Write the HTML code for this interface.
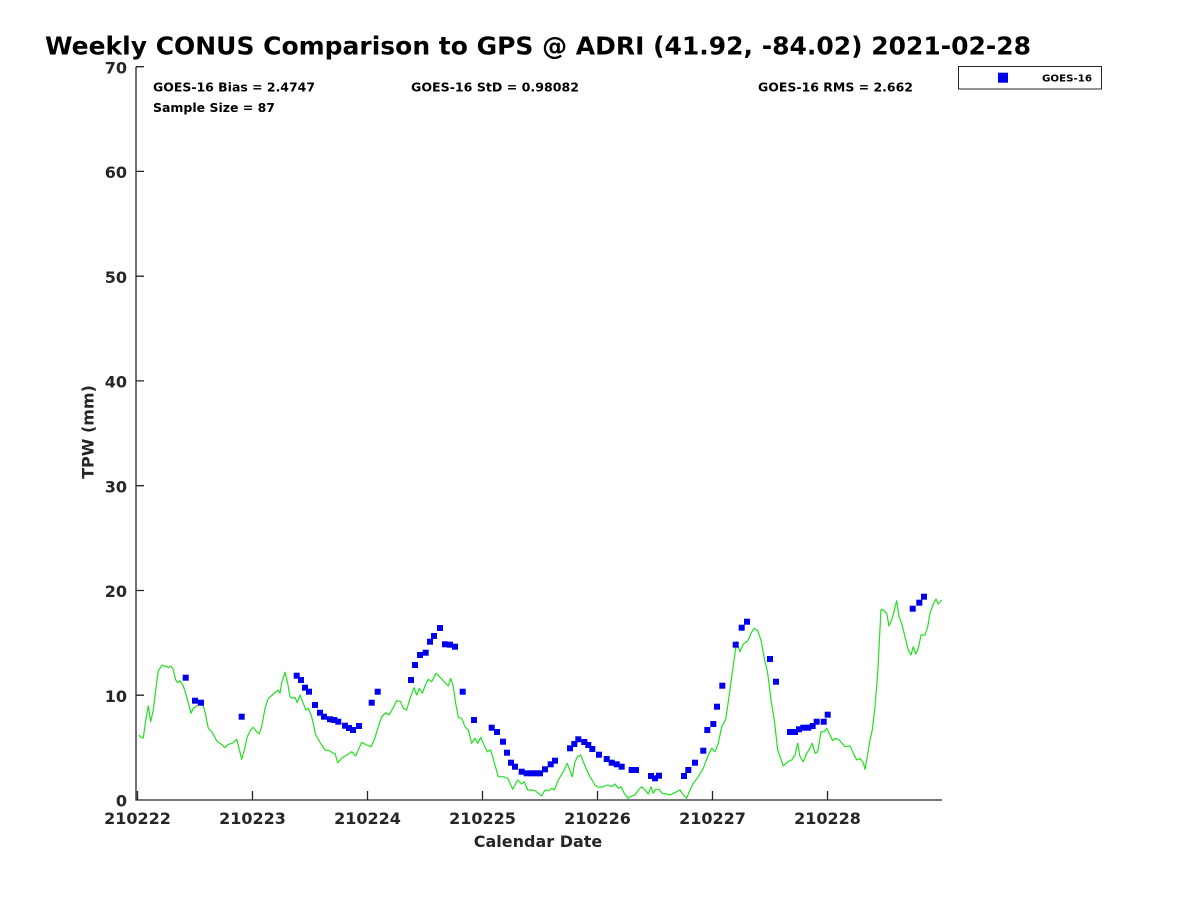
<!DOCTYPE html>
<html>
<head>
<meta charset="utf-8">
<style>
html,body{margin:0;padding:0;background:#fff;}
svg{display:block;}
text{font-family:"DejaVu Sans","Liberation Sans",sans-serif;font-weight:bold;}
</style>
</head>
<body>
<svg width="1200" height="900" viewBox="0 0 1200 900" xmlns="http://www.w3.org/2000/svg">
<defs>
<marker id="sq" markerUnits="userSpaceOnUse" markerWidth="6" markerHeight="6" refX="3" refY="3" viewBox="0 0 6 6" overflow="visible">
<rect x="0" y="0" width="6" height="6" fill="#0000ee"/>
</marker>
</defs>
<rect width="1200" height="900" fill="#fff"/>
<text x="45" y="54.5" font-size="25" fill="#000" textLength="986" lengthAdjust="spacingAndGlyphs">Weekly CONUS Comparison to GPS @ ADRI (41.92, -84.02) 2021-02-28</text>
<path fill="none" stroke="#262626" stroke-width="1.3" d="M136 66.7V800H942 M136 66.7h8 M136 171.4h8 M136 276.2h8 M136 380.9h8 M136 485.7h8 M136 590.5h8 M136 695.2h8 M137.5 800v-9 M252.5 800v-9 M367.5 800v-9 M482.5 800v-9 M597.5 800v-9 M712.5 800v-9 M827.5 800v-9"/>
<g font-size="16" fill="#262626" text-anchor="end">
<text x="127" y="73.3">70</text>
<text x="127" y="178">60</text>
<text x="127" y="282.8">50</text>
<text x="127" y="387.5">40</text>
<text x="127" y="492.3">30</text>
<text x="127" y="597">20</text>
<text x="127" y="701.8">10</text>
<text x="127" y="806.5">0</text>
</g>
<g font-size="16" fill="#262626" text-anchor="middle">
<text x="137.5" y="824">210222</text>
<text x="252.5" y="824">210223</text>
<text x="367.5" y="824">210224</text>
<text x="482.5" y="824">210225</text>
<text x="597.5" y="824">210226</text>
<text x="712.5" y="824">210227</text>
<text x="827.5" y="824">210228</text>
</g>
<text x="538" y="847" font-size="16" fill="#262626" text-anchor="middle">Calendar Date</text>
<text transform="translate(93.5,432) rotate(-90)" font-size="16" fill="#262626" text-anchor="middle">TPW (mm)</text>
<g font-size="12" fill="#000">
<text x="153" y="91.5" textLength="162" lengthAdjust="spacingAndGlyphs">GOES-16 Bias = 2.4747</text>
<text x="153" y="112" textLength="122" lengthAdjust="spacingAndGlyphs">Sample Size = 87</text>
<text x="411" y="91.5" textLength="168" lengthAdjust="spacingAndGlyphs">GOES-16 StD = 0.98082</text>
<text x="758" y="91.5" textLength="155" lengthAdjust="spacingAndGlyphs">GOES-16 RMS = 2.662</text>
</g>
<rect x="958.5" y="66.5" width="143" height="22.5" fill="#fff" stroke="#262626" stroke-width="1"/>
<rect x="998" y="72.7" width="10" height="10" fill="#0000ee"/>
<text x="1042" y="81.5" font-size="10" fill="#000" textLength="50" lengthAdjust="spacingAndGlyphs">GOES-16</text>
<polyline fill="none" stroke="#22e022" stroke-width="1.2" stroke-linejoin="round" points="139,735 141,737.3 143.3,738 145.7,720 148.3,706 150.7,721.7 153.3,710 155.7,690 158.3,670.7 162.3,665 165,666.7 166.7,666 168.3,667.7 171,666 173.3,670 175.7,680 177.7,682.7 180,680.7 183.3,686 186.7,696.7 191,713.3 193.3,708.3 196.7,706 200,704 202.7,704 205,711.7 208.3,728.3 211.7,731.7 216.7,740.7 221,744 225,747.7 228.3,744.3 232.3,743.3 234.3,741.7 236.7,739.3 239,748.3 241.7,759.3 244.3,750 247.3,736.7 251,729.3 253.3,727.3 255.7,730.7 259,734 261.7,726.7 265,708.3 268.3,698.3 272.3,695 275.7,692 278.3,690 280,693.3 281.7,682.7 285,672.3 287.7,683.3 290,696.7 292.3,698.3 295,697.3 297.3,702.7 300,695 303.3,703.3 305.7,710 308.3,708.3 311.7,716.7 315.7,735 321,744 325,750 329.3,750.7 333.3,753.3 335,753.3 337.7,762.7 341.7,758.3 346.7,755 351.7,751.7 355.7,756 358.3,750 361.7,742.3 366.7,745 371,746.7 374.3,740 378.3,726.7 381.7,716.7 385.7,712.7 389,715 392.3,709.3 396.7,700.7 400.7,701.7 403.3,708.3 406.7,710 410,698.3 414,687.7 416.7,695 419.3,688.3 422.3,693.3 425,686 428.3,679.3 431.7,681.7 436,673.3 440,677.3 444.3,681.7 448.3,686 450.7,678.3 453.3,686.7 455.7,703.3 458.3,717.3 461.7,718.3 465,726.7 468.3,730 471.7,743.3 475,738.3 477.7,743.3 480.7,737.3 484,745 487.3,751.7 490.7,750 494,761.7 498.3,776.7 503.3,776.7 507.7,778.3 512.7,789.3 517.7,780 521.7,784 524.3,781.7 527.7,790 531.7,790 535,790.7 538.3,793.3 541.7,796 545,790 549,790.7 551.7,788.3 554.3,790 558.3,780 563.3,771.7 567.3,763.3 570,770.7 572.3,776.7 575,761.7 577.7,756.7 580.7,755 583.3,761.7 586.7,770 590,776.7 595,785 598.3,787.3 603.3,786.7 607.7,785 611.7,786.7 615,784 618.3,788.3 621,786.7 624.3,793.3 627.7,798.3 631.7,796 635,795 638.3,790 641.7,786.7 645,790 648.3,794 651,786.7 653.3,793.3 655.7,789.3 659,789.3 662.3,793.3 666.7,794 670,795 673.3,793.3 676.7,791.7 680,790 683.3,795 686.7,798.3 689.3,791.7 693.3,783.3 698.3,776.7 703.3,768.3 708.3,755 711.7,748.3 715,751.7 718.3,743.3 721.7,726.7 725.7,719.3 728.3,701.7 731.7,676.7 735,653.3 736.7,641.7 740,651.7 743.3,644 747.7,641 751,633.3 754.3,628.3 757.7,630.7 761,640 764.3,658.3 767.7,673.3 771,700 774.3,720 777.7,750 783.3,766 787.7,761.7 791.7,760 795,755 797.7,743.3 800,756.7 803.3,761.7 806.7,753.3 809,750 812.3,743.3 815,753.3 817.7,751.7 821,731.7 824.3,731.7 826.7,728.3 830,735 832.7,740.7 835,738.3 838.3,739.3 841.7,742.7 845,746.7 850,746 853.3,753.3 856.7,760 860,758.3 863.3,762.7 865,769.3 867.3,756.7 870,740 872.3,730 875,706.7 877.7,673.3 881,609.3 884.3,610.7 886.7,613.3 889,626 892.3,618.3 896.7,600.7 899,616.7 901.7,623.3 905,636.7 908.3,650 911,655 913.3,646.7 915.7,654 918.3,648.3 921,635 925,635 927.7,626.7 930,613.3 933.3,604 936,599 938.3,604 941.7,600"/>
<polyline fill="none" stroke="none" marker-start="url(#sq)" marker-mid="url(#sq)" marker-end="url(#sq)" points="185.7,677.7 195,700.7 201,702.7 241.7,716.7 296.7,675.7 301,680 305,687.7 309,691.7 315,705 320,712.7 324,716.7 330,719.3 334.3,720 338.3,721.7 345,725.7 349,728 353,730 359,726 371.7,702.7 377.7,691.7 411,680 415,665 420,655 425.7,652.7 430,641.7 434,636 440,628 445,644.3 450,644.7 455,646.7 462.7,691.7 474,720 491.7,727.7 497,732 503,741.7 507,752.7 511,762.7 515,766.7 521.7,771.7 526.7,773.3 531.7,773.3 536.7,773.3 540,773.3 545,769.3 550.7,764.3 555,760.7 570,748.3 574.3,744 578.3,739.3 584.3,742 588.3,745 592.3,749 599,754.7 606.7,759 611.7,762.7 616.7,764.3 621.7,766.7 631.7,770 636,770 651,776 655,778.3 659,775.7 684,776 688.3,770 695,762.7 703.3,750.7 707.3,730 713.3,724 717,706.7 722.3,685.7 735.7,644.7 741.7,627.7 747,621.7 770,659 776,681.7 790,732 795,732 799,729.3 803.3,727.7 808.3,727.7 812.7,726 816.7,721.7 823.7,721.7 827.7,714.7 912.7,608.7 919.3,602.7 924,596.7"/>
</svg>
</body>
</html>
